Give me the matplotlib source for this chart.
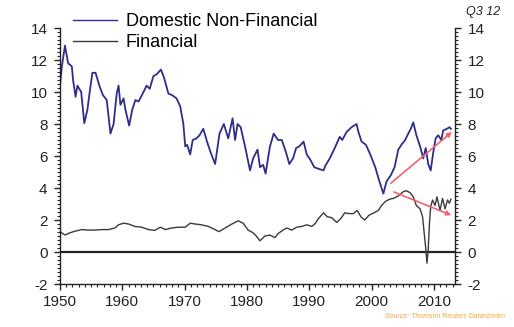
import matplotlib
matplotlib.use("Agg")
import matplotlib.pyplot as plt
from matplotlib.ticker import MultipleLocator

plt.rcParams['font.family'] = ['Liberation Sans', 'DejaVu Sans']

# Domestic non-financial corporate profit share (%)
dnf_year = [1950.0, 1950.3, 1950.8, 1951.3, 1951.9, 1952.1, 1952.5, 1952.8, 1953.4, 1953.9,
            1954.4, 1954.8, 1955.2, 1955.7, 1956.4, 1956.9, 1957.5, 1958.1, 1958.6, 1959.1,
            1959.4, 1959.7, 1960.2, 1960.5, 1961.1, 1961.6, 1962.1, 1962.6, 1963.4, 1963.9,
            1964.4, 1965.0, 1965.5, 1966.2, 1966.7, 1967.4, 1968.0, 1968.7, 1969.3, 1969.8,
            1970.1, 1970.4, 1970.9, 1971.3, 1971.9, 1972.4, 1973.0, 1973.6, 1974.2, 1974.9,
            1975.6, 1976.3, 1977.0, 1977.7, 1978.1, 1978.5, 1979.0, 1979.7, 1980.5, 1981.0,
            1981.7, 1982.1, 1982.6, 1983.0, 1983.7, 1984.3, 1985.0, 1985.6, 1986.3, 1986.8,
            1987.4, 1987.9, 1988.4, 1989.1, 1989.6, 1990.2, 1990.8, 1991.5, 1992.3, 1992.6,
            1993.3, 1994.1, 1994.9, 1995.3, 1996.0, 1996.8, 1997.6, 1997.9, 1998.4, 1999.1,
            1999.8, 2000.6, 2001.2, 2001.9, 2002.4, 2003.1, 2003.7, 2004.3, 2004.8, 2005.4,
            2005.9, 2006.3, 2006.7, 2007.2, 2007.8, 2008.3, 2008.7, 2009.1, 2009.5, 2009.9,
            2010.3, 2010.7, 2011.2, 2011.5, 2012.1, 2012.5, 2012.75]
dnf_value = [10.4, 11.6, 12.9, 11.8, 11.6, 10.75, 9.7, 10.4, 10.0, 8.05,
             8.9, 10.1, 11.2, 11.2, 10.3, 9.8, 9.5, 7.4, 8.0, 9.9,
             10.4, 9.2, 9.6, 8.9, 7.9, 8.9, 9.5, 9.4, 10.0, 10.4,
             10.2, 11.0, 11.1, 11.4, 10.9, 9.9, 9.8, 9.6, 9.1, 8.0,
             6.6, 6.7, 6.1, 7.0, 7.1, 7.3, 7.7, 6.9, 6.2, 5.5,
             7.4, 8.0, 7.1, 8.35, 7.0, 8.0, 7.8, 6.6, 5.1, 5.85,
             6.4, 5.3, 5.45, 4.9, 6.6, 7.4, 7.0, 7.0, 6.2, 5.5,
             5.85, 6.5, 6.6, 6.9, 6.1, 5.75, 5.3, 5.2, 5.1, 5.4,
             5.85, 6.5, 7.2, 7.0, 7.5, 7.8, 8.0, 7.5, 6.9, 6.7,
             6.1, 5.3, 4.5, 3.65, 4.4, 4.8, 5.3, 6.4, 6.7, 7.0,
             7.4, 7.7, 8.1, 7.3, 6.6, 5.85, 6.5, 5.5, 5.1, 6.2,
             7.1, 7.3, 7.0, 7.6, 7.7, 7.8, 7.7]

# Financial corporate profit share (%)
fin_year = [1950.0, 1950.8, 1951.6, 1952.4, 1953.5, 1954.5, 1955.6, 1956.7, 1957.8, 1958.8,
            1959.4, 1960.2, 1961.0, 1962.0, 1963.1, 1964.2, 1965.2, 1966.1, 1966.9, 1967.9,
            1969.0, 1970.1, 1970.9, 1971.7, 1972.7, 1973.8, 1974.9, 1975.5, 1976.5, 1977.6,
            1978.6, 1979.4, 1980.2, 1981.0, 1981.5, 1982.1, 1982.9, 1983.7, 1984.5, 1985.0,
            1985.8, 1986.4, 1987.2, 1988.0, 1988.8, 1989.6, 1990.4, 1990.9, 1991.5, 1992.3,
            1992.9, 1993.6, 1994.4, 1995.1, 1995.7, 1996.4, 1997.1, 1997.7, 1998.3, 1998.9,
            1999.6, 2000.4, 2001.1, 2001.6, 2002.2, 2002.9, 2003.5, 2004.3, 2005.1, 2005.6,
            2006.2, 2006.7, 2007.2, 2007.8, 2008.2, 2008.4, 2008.7, 2008.9, 2009.1, 2009.3,
            2009.5, 2009.8, 2010.2, 2010.5, 2011.0, 2011.4, 2011.8, 2012.2, 2012.5, 2012.75]
fin_value = [1.27, 1.06, 1.2, 1.3, 1.4, 1.37, 1.37, 1.4, 1.4, 1.5,
             1.7, 1.8, 1.75, 1.6, 1.55, 1.4, 1.35, 1.55, 1.4, 1.5,
             1.55, 1.55, 1.8, 1.75, 1.7, 1.6, 1.4, 1.27, 1.5, 1.75,
             1.95, 1.8, 1.37, 1.2, 1.0, 0.7, 1.0, 1.06, 0.9, 1.15,
             1.37, 1.5, 1.37, 1.55, 1.6, 1.7, 1.6, 1.75, 2.1, 2.45,
             2.2, 2.15, 1.85, 2.1, 2.45, 2.4, 2.4, 2.6, 2.2, 2.0,
             2.3, 2.45, 2.6, 2.9, 3.15, 3.3, 3.35, 3.5, 3.77, 3.83,
             3.7, 3.45, 2.9, 2.7, 2.2, 1.4, 0.25, -0.7, 0.15, 1.8,
             2.85, 3.25, 2.9, 3.45, 2.6, 3.35, 2.7, 3.25, 3.05, 3.3]

# Trend arrows (start year, start value, end year, end value)
trend_up = [2003.1, 4.3, 2012.9, 7.5]
trend_down = [2003.6, 3.75, 2012.8, 2.3]

series_labels = ["Domestic Non-Financial", "Financial"]
x_ticks = [1950, 1960, 1970, 1980, 1990, 2000, 2010]
y_ticks = [-2, 0, 2, 4, 6, 8, 10, 12, 14]

W, H = 514, 327
fig = plt.figure(figsize=(W / 100, H / 100), dpi=100)
ax = fig.add_axes([60 / W, 1 - 284 / H, (455 - 60) / W, (284 - 28) / H])

navy = "#2e2e8a"
dark = "#3a3a3a"
l1, = ax.plot(dnf_year, dnf_value, color=navy, lw=1.3)
l2, = ax.plot(fin_year, fin_value, color=dark, lw=1.0)
ax.axhline(0, color="#222222", lw=1.6, zorder=1)

arrow_color = "#f26272"
for t in (trend_up, trend_down):
    ax.annotate("", xy=(t[2], t[3]), xytext=(t[0], t[1]),
                arrowprops=dict(arrowstyle="-|>", color=arrow_color, lw=1.2,
                                mutation_scale=7, shrinkA=0, shrinkB=0))

ax.set_xlim(1950, 2013.4)
ax.set_ylim(-2, 14)
ax.set_xticks(x_ticks)
ax.set_yticks(y_ticks)
ax.xaxis.set_minor_locator(MultipleLocator(1))
ax.yaxis.set_minor_locator(MultipleLocator(0.25))

ax.spines['top'].set_visible(False)
for s in ('left', 'right', 'bottom'):
    ax.spines[s].set_linewidth(1.0)
    ax.spines[s].set_color("#222222")

ax.tick_params(axis='both', which='major', direction='out', length=4, width=1,
               labelsize=11, colors="#222222")
ax.tick_params(axis='both', which='minor', direction='out', length=2, width=0.8,
               colors="#222222")
ax.tick_params(axis='y', which='both', left=True, right=True,
               labelleft=True, labelright=True)
ax.tick_params(axis='y', which='major', pad=5)
ax.tick_params(axis='x', which='major', pad=4)
ax.set_yticklabels([str(v) for v in y_ticks])

leg = fig.legend([l1, l2], series_labels, loc='upper left',
                 bbox_to_anchor=(66 / W, 1 - 6 / H), frameon=False,
                 fontsize=13, handlelength=2.4, handletextpad=0.5,
                 labelspacing=0.22, borderaxespad=0)
for line in leg.get_lines():
    line.set_linewidth(1.0)

fig.text(500 / W, 1 - 12 / H, "Q3 12", style='italic', fontsize=9,
         ha='right', va='center', color="#222222")
fig.text(505 / W, 1 - 316 / H, "Source: Thomson Reuters Datastream",
         style='italic', fontsize=5, ha='right', va='center', color="#f5a640")

fig.savefig("out.png", dpi=100, facecolor="white")
